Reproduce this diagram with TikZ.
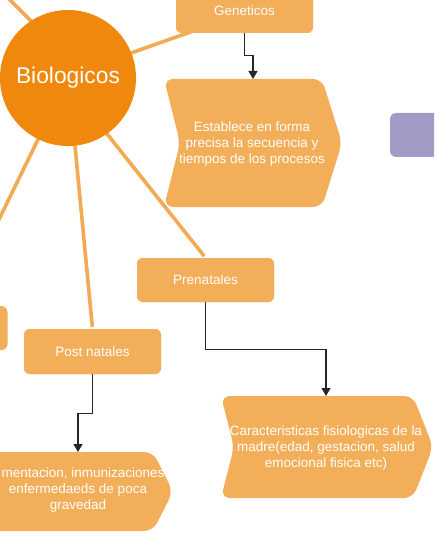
\documentclass[tikz,border=0pt]{standalone}
\usepackage{fontspec}
\setmainfont{Liberation Sans}
\usetikzlibrary{arrows.meta}
\definecolor{bioOrange}{RGB}{239,136,12}
\definecolor{boxOrange}{RGB}{243,174,90}
\definecolor{lineOrange}{RGB}{242,170,84}
\definecolor{purpleBox}{RGB}{161,155,197}
\tikzset{
  link/.style={draw=lineOrange, line width=3.6pt},
  obox/.style={rectangle, rounded corners=6pt, fill=boxOrange, minimum width=137pt, minimum height=44pt, inner sep=0pt, text=white, font=\fontsize{13.5}{16}\selectfont},
  chev/.style={fill=boxOrange, rounded corners=9pt},
  chevtext/.style={text=white, align=center, inner sep=0pt, font=\fontsize{13.5}{16}\selectfont},
  arr/.style={draw=black!85, line width=1.3pt, -{Triangle[width=9pt,length=8pt]}},
}
\begin{document}
\begin{tikzpicture}[x=1pt,y=-1pt]
\useasboundingbox (0,0) rectangle (434,540);
\fill[white] (0,0) rectangle (434,540);
\clip (0,0) rectangle (434,540);

% connector end coordinates
\coordinate (ulA) at (60,50);
\coordinate (ulB) at (0,-10);
\coordinate (gA) at (100,64);
\coordinate (gB) at (196,30);
\coordinate (dlA) at (50,115);
\coordinate (dlB) at (-15,248);
\coordinate (pnA) at (70.6,100);
\coordinate (prA) at (89.6,112);

% orange connectors (behind circle and boxes)
\draw[link] (ulA) -- (ulB);
\draw[link] (gA) -- (gB);
\draw[link] (dlA) -- (dlB);

% boxes
\node[obox] (gen) at (244.5,11) {Geneticos};
\node[obox] (pre) at (205.5,280) {Prenatales};
\node[obox, minimum height=45pt] (post) at (92.5,351.5) {Post natales};
\node[obox] (leftbox) at (-61,328) {};
\node[obox, fill=purpleBox] (purp) at (458.5,135) {};

\begin{scope}[on background layer/.try]
\end{scope}
\draw[link, shorten >=2pt] (pnA) -- (post.north);
\draw[link, shorten >=2pt] (prA) -- (pre.north);
% keep box faces over connector ends
\node[obox] at (gen) {Geneticos};
\node[obox] at (pre) {Prenatales};
\node[obox, minimum height=45pt] at (post) {Post natales};

% circle
\node[circle, fill=bioOrange, minimum size=136pt, inner sep=0pt, text=white,
      font=\fontsize{22.8}{26}\selectfont] (bio) at (68,78) {Biologicos};

% chevron 1
\fill[chev] (164,79) -- (322,79) -- (342,143) -- (322,207) -- (164,207) -- (180,143) -- cycle;
\node[chevtext] (est) at (252,144) {Establece en forma\\precisa la secuencia y\\tiempos de los procesos};
\coordinate (c1top) at (253,79);

% chevron 2
\fill[chev] (221,396) -- (413,396) -- (433,447) -- (413,498) -- (221,498) -- (234,447) -- cycle;
\node[chevtext] (car) at (326,448) {Caracteristicas fisiologicas de la\\madre(edad, gestacion, salud\\emocional fisica etc)};
\coordinate (c2top) at (326,396);

% chevron 3
\fill[chev] (-40,452) -- (153,452) -- (173,491.5) -- (153,531) -- (-40,531) -- (-28,491.5) -- cycle;
\node[chevtext] (ali) at (78,490) {\hspace*{10pt}mentacion, inmunizaciones\\enfermedaeds de poca\\gravedad};
\coordinate (c3top) at (78,452);

% arrows
\draw[arr] (gen.south) -- ++(0,22) -| (c1top);
\draw[arr] (pre.south) -- ++(0,47) -| (c2top);
\draw[arr] (post.south) -- ++(0,39) -| (c3top);
\end{tikzpicture}
\end{document}
